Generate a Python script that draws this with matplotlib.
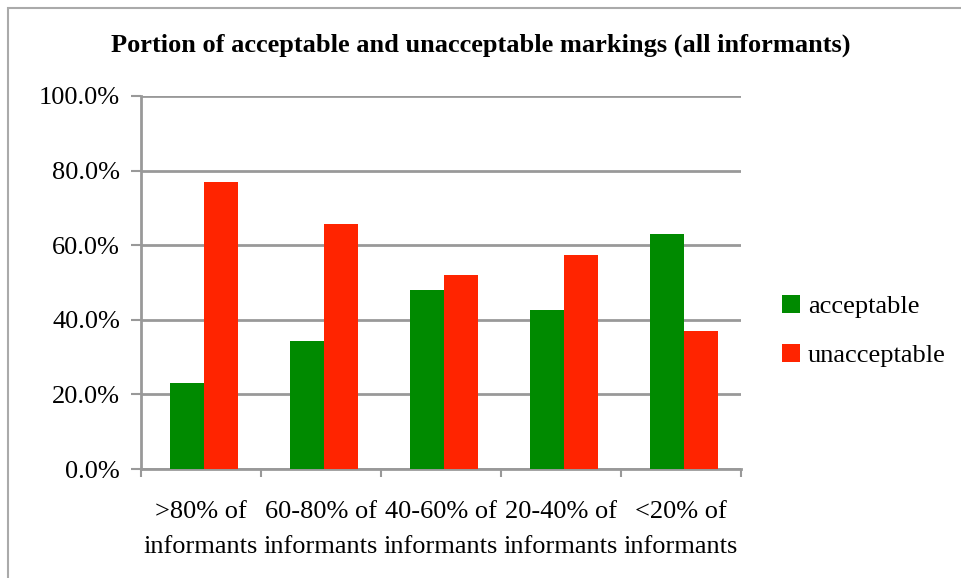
import matplotlib
matplotlib.use("Agg")
import matplotlib.pyplot as plt
import numpy as np
from matplotlib.patches import Rectangle

categories = [">80% of\ninformants", "60-80% of\ninformants", "40-60% of\ninformants",
              "20-40% of\ninformants", "<20% of\ninformants"]
acceptable = [23.1, 34.2, 48.0, 42.6, 63.0]
unacceptable = [76.9, 65.8, 52.0, 57.4, 37.0]
y_ticks = [0, 20, 40, 60, 80, 100]

GREEN = "#008a00"
RED = "#ff2400"
GRID = "#999999"

plt.rcParams["font.family"] = ["Liberation Serif", "DejaVu Serif"]

W, H = 961, 578
fig = plt.figure(figsize=(W / 100, H / 100), dpi=100)

# outer chart frame
fig.patches.append(Rectangle((8 / W, -0.1), 1.2, 1 - 8 / H + 0.1,
                             transform=fig.transFigure, fill=False,
                             edgecolor="#aaaaaa", linewidth=1.5))

ax = fig.add_axes([141 / W, 1 - 469 / H, 600 / W, 373 / H])

x = np.arange(len(categories))
bw = 0.283
ax.bar(x - bw / 2 + 0.025, acceptable, bw, color=GREEN, label="acceptable", zorder=3)
ax.bar(x + bw / 2 + 0.025, unacceptable, bw, color=RED, label="unacceptable", zorder=3)

ax.set_xlim(-0.5, len(categories) - 0.5)
ax.set_ylim(0, 100)
ax.set_yticks(y_ticks)
ax.set_yticklabels([f"{v:.1f}%" for v in y_ticks], fontsize=19)
ax.yaxis.grid(True, color=GRID, linewidth=2, zorder=0)
ax.set_axisbelow(True)

ax.set_xticks(np.arange(-0.5, len(categories) + 0.5, 1), minor=False)
ax.set_xticklabels([])
ax.set_xticks(x, minor=True)
ax.set_xticklabels(categories, minor=True, fontsize=19, linespacing=1.75)
ax.tick_params(axis="x", which="minor", length=0, pad=23)
ax.tick_params(axis="x", which="major", length=6, width=1.5, color=GRID)
ax.tick_params(axis="y", length=7, width=1.5, color=GRID, pad=8)

for s in ["top", "right"]:
    ax.spines[s].set_visible(False)
for s in ["left", "bottom"]:
    ax.spines[s].set_color(GRID)
    ax.spines[s].set_linewidth(2)

fig.text(0.5 * (108 + 853) / W, 1 - 45 / H,
         "Portion of acceptable and unacceptable markings (all informants)",
         ha="center", va="center", fontsize=19, fontweight="bold")

leg = fig.legend(loc="center left", bbox_to_anchor=(758 / W, 1 - 331 / H),
                 frameon=False, fontsize=19, handlelength=0.7, handleheight=0.7,
                 handletextpad=0.3, labelspacing=0.95)

fig.savefig("out.png", dpi=100)
